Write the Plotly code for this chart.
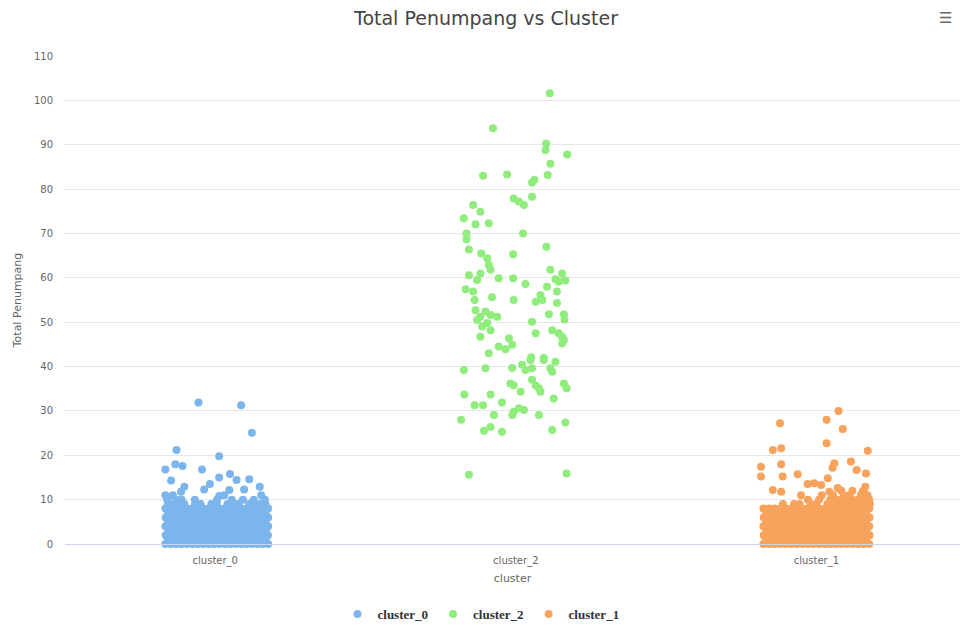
import plotly.graph_objects as go

# ---------------- data ----------------
categories = ["cluster_0", "cluster_2", "cluster_1"]
colors = ["#7cb5ec", "#90ed7d", "#f7a35c"]
y_ticks = [0, 10, 20, 30, 40, 50, 60, 70, 80, 90, 100, 110]

# cluster_0 : dense mass of small values (integer rows) + scattered higher points
c0_values = [
    0, 0, 0, 0, 0, 0, 0, 0, 0, 0, 0, 0, 0, 0, 0, 0, 0, 0, 0, 0,
    1, 1, 1, 1, 1, 1, 1, 1, 1, 1, 1, 1, 1, 1, 1, 1, 1, 1, 1,
    2, 2, 2, 2, 2, 2, 2, 2, 2, 2, 2, 2, 2, 2, 2, 2, 2, 2, 2, 2,
    3, 3, 3, 3, 3, 3, 3, 3, 3, 3, 3, 3, 3, 3, 3, 3, 3, 3, 3,
    4, 4, 4, 4, 4, 4, 4, 4, 4, 4, 4, 4, 4, 4, 4, 4, 4, 4, 4, 4,
    5, 5, 5, 5, 5, 5, 5, 5, 5, 5, 5, 5, 5, 5, 5, 5, 5, 5, 5,
    6, 6, 6, 6, 6, 6, 6, 6, 6, 6, 6, 6, 6, 6, 6, 6, 6, 6, 6, 6,
    7, 7, 7, 7, 7, 7, 7, 7, 7, 7, 7, 7, 7, 7, 7, 7, 7, 7, 7,
    8, 8, 8, 8, 8, 8, 8, 8, 8, 8, 8, 8, 8, 8, 8, 8, 8, 8, 8, 8,
    9, 9, 9, 9, 9, 9, 9, 9, 9, 9, 9, 9, 9, 9, 9,
    10, 10, 10, 10, 10, 10, 10, 10, 10,
    11, 11, 11, 11,
    31.9, 31.3, 25.1, 21.2, 19.8, 16.8, 18.0, 17.6, 16.8, 15.0, 15.8, 14.4, 14.6, 14.3,
    12.9, 13.5, 12.9, 12.3, 12.2, 12.3, 11.8, 10.8,
]
c0_jitter = [
    -0.166, -0.148, -0.130, -0.112, -0.094, -0.076, -0.058, -0.040, -0.022, -0.004, 0.014, 0.032, 0.050, 0.068, 0.086, 0.104, 0.122, 0.140, 0.158, 0.176,
    -0.157, -0.139, -0.121, -0.103, -0.085, -0.067, -0.049, -0.031, -0.013, 0.005, 0.023, 0.041, 0.059, 0.077, 0.095, 0.113, 0.131, 0.149, 0.167,
    -0.165, -0.147, -0.131, -0.111, -0.095, -0.075, -0.059, -0.039, -0.023, -0.003, 0.013, 0.033, 0.049, 0.069, 0.085, 0.105, 0.121, 0.141, 0.157, 0.175,
    -0.156, -0.140, -0.120, -0.104, -0.084, -0.068, -0.048, -0.032, -0.012, 0.004, 0.024, 0.040, 0.060, 0.076, 0.096, 0.112, 0.132, 0.148, 0.168,
    -0.166, -0.149, -0.130, -0.113, -0.094, -0.077, -0.058, -0.041, -0.022, -0.005, 0.014, 0.031, 0.050, 0.067, 0.086, 0.103, 0.122, 0.139, 0.158, 0.176,
    -0.157, -0.138, -0.121, -0.102, -0.085, -0.066, -0.049, -0.030, -0.013, 0.006, 0.023, 0.042, 0.059, 0.078, 0.095, 0.114, 0.131, 0.150, 0.167,
    -0.165, -0.148, -0.129, -0.112, -0.093, -0.076, -0.057, -0.040, -0.021, -0.004, 0.015, 0.032, 0.051, 0.068, 0.087, 0.104, 0.123, 0.140, 0.159, 0.176,
    -0.157, -0.139, -0.121, -0.103, -0.085, -0.067, -0.049, -0.031, -0.013, 0.005, 0.023, 0.041, 0.059, 0.077, 0.095, 0.113, 0.131, 0.149, 0.167,
    -0.166, -0.148, -0.130, -0.112, -0.094, -0.076, -0.058, -0.040, -0.022, -0.004, 0.014, 0.032, 0.050, 0.068, 0.086, 0.104, 0.122, 0.140, 0.158, 0.176,
    -0.157, -0.139, -0.121, -0.103, -0.067, -0.049, -0.013, 0.005, 0.041, 0.059, 0.077, 0.113, 0.131, 0.149, 0.167,
    -0.160, -0.130, -0.112, -0.068, 0.006, 0.055, 0.092, 0.128, 0.165,
    -0.166, -0.141, 0.030, 0.153,
    -0.056, 0.086, 0.122, -0.129, 0.013, -0.166, -0.133, -0.109, -0.044, 0.013, 0.049, 0.071, 0.113, -0.147,
    -0.103, -0.018, 0.148, -0.037, 0.047, 0.096, -0.114, 0.013,
]

# cluster_2 : widely spread large values
c2_values = [
    101.6, 93.7, 90.3, 88.8, 87.8, 85.7, 83.0, 83.3, 83.2, 81.5, 82.1, 77.9, 77.2, 76.4, 78.3,
    76.4, 74.9, 73.4, 72.1, 72.3, 70.0, 68.7, 70.0, 66.4, 67.0, 65.5, 65.3, 64.4, 62.9, 61.8,
    60.6, 59.5, 61.0, 59.9, 59.9, 58.6, 61.8, 61.0, 59.7, 59.1, 59.4, 58.0, 57.4, 56.9, 55.0,
    55.6, 55.0, 56.1, 55.0, 54.6, 56.9, 54.3, 51.8, 51.8, 50.6, 52.7, 51.2, 52.4, 51.6, 51.2,
    50.5, 49.0, 49.8, 48.2, 46.7, 50.1, 47.5, 48.2, 47.5, 46.7, 46.0, 46.4, 44.9, 44.5, 43.9,
    43.0, 42.1, 41.9, 45.2, 39.2, 39.6, 39.7, 40.4, 39.2, 41.5, 39.6, 41.5, 39.6, 41.1, 38.8,
    36.2, 35.8, 37.0, 35.8, 35.1, 34.3, 34.3, 36.2, 35.1, 33.7, 33.7, 32.8, 31.3, 31.3, 31.9,
    29.8, 30.6, 30.2, 29.1, 29.1, 29.1, 28.0, 27.4, 25.5, 26.4, 25.3, 25.7, 15.6, 15.9,
]
c2_jitter = [
    0.113, -0.076, 0.101, 0.099, 0.171, 0.115, -0.109, -0.029, 0.106, 0.054, 0.062, -0.007, 0.010, 0.027, 0.054,
    -0.142, -0.118, -0.173, -0.134, -0.090, -0.164, -0.164, 0.024, -0.156, 0.102, -0.115, -0.009, -0.095, -0.090, -0.084,
    -0.156, -0.129, -0.118, -0.057, -0.009, 0.032, 0.115, 0.154, 0.132, 0.143, 0.165, 0.104, -0.167, -0.142, -0.137,
    -0.079, -0.007, 0.082, 0.088, 0.066, 0.137, 0.137, 0.110, 0.160, 0.162, -0.134, -0.118, -0.101, -0.084, -0.062,
    -0.129, -0.112, -0.095, -0.084, -0.118, 0.054, 0.066, 0.121, 0.143, 0.154, 0.160, -0.023, -0.012, -0.057, -0.034,
    -0.090, 0.051, 0.093, 0.154, -0.173, -0.101, -0.012, 0.021, 0.032, 0.049, 0.054, 0.093, 0.115, 0.132, 0.121,
    -0.018, -0.007, 0.054, 0.066, 0.077, 0.082, 0.016, 0.160, 0.169, -0.171, -0.084, 0.126, -0.137, -0.109, -0.046,
    -0.007, 0.010, 0.027, -0.012, -0.073, 0.077, -0.182, 0.165, -0.106, -0.084, -0.046, 0.121, -0.156, 0.169,
]

# cluster_1 : dense mass of small values + scattered higher points
c1_values = [
    0, 0, 0, 0, 0, 0, 0, 0, 0, 0, 0, 0, 0, 0, 0, 0, 0, 0, 0, 0,
    1, 1, 1, 1, 1, 1, 1, 1, 1, 1, 1, 1, 1, 1, 1, 1, 1, 1, 1,
    2, 2, 2, 2, 2, 2, 2, 2, 2, 2, 2, 2, 2, 2, 2, 2, 2, 2, 2, 2,
    3, 3, 3, 3, 3, 3, 3, 3, 3, 3, 3, 3, 3, 3, 3, 3, 3, 3, 3,
    4, 4, 4, 4, 4, 4, 4, 4, 4, 4, 4, 4, 4, 4, 4, 4, 4, 4, 4, 4,
    5, 5, 5, 5, 5, 5, 5, 5, 5, 5, 5, 5, 5, 5, 5, 5, 5, 5, 5,
    6, 6, 6, 6, 6, 6, 6, 6, 6, 6, 6, 6, 6, 6, 6, 6, 6, 6, 6, 6,
    7, 7, 7, 7, 7, 7, 7, 7, 7, 7, 7, 7, 7, 7, 7, 7, 7, 7, 7,
    8, 8, 8, 8, 8, 8, 8, 8, 8, 8, 8, 8, 8, 8, 8, 8, 8, 8, 8, 8,
    9, 9, 9, 9, 9, 9, 9, 9, 9, 9, 9, 9, 9, 9,
    10, 10, 10, 10, 10, 10, 10, 10, 10, 10,
    11, 11, 11, 11, 11, 11,
    12, 12, 12,
    30.0, 28.0, 27.2, 25.9, 22.7, 21.2, 21.6, 21.0, 18.0, 17.4, 18.2, 17.2, 18.6, 16.7, 15.9,
    15.2, 15.2, 15.7, 13.5, 13.7, 14.8, 13.3, 12.2, 11.8, 11.0, 12.6, 11.8, 12.9, 11.8,
]
c1_jitter = [
    -0.176, -0.157, -0.139, -0.120, -0.102, -0.083, -0.065, -0.046, -0.028, -0.009, 0.009, 0.028, 0.046, 0.065, 0.083, 0.102, 0.120, 0.139, 0.157, 0.176,
    -0.167, -0.148, -0.130, -0.111, -0.093, -0.074, -0.056, -0.037, -0.019, 0.000, 0.018, 0.037, 0.055, 0.074, 0.092, 0.111, 0.129, 0.148, 0.166,
    -0.175, -0.158, -0.138, -0.121, -0.101, -0.084, -0.064, -0.047, -0.027, -0.010, 0.010, 0.027, 0.047, 0.064, 0.084, 0.101, 0.121, 0.138, 0.158, 0.177,
    -0.166, -0.149, -0.129, -0.112, -0.092, -0.075, -0.055, -0.038, -0.018, -0.001, 0.019, 0.036, 0.056, 0.073, 0.093, 0.110, 0.130, 0.147, 0.167,
    -0.176, -0.157, -0.140, -0.120, -0.103, -0.083, -0.066, -0.046, -0.029, -0.009, 0.008, 0.028, 0.045, 0.065, 0.082, 0.102, 0.119, 0.139, 0.156, 0.176,
    -0.167, -0.147, -0.130, -0.110, -0.093, -0.073, -0.056, -0.036, -0.019, 0.001, 0.018, 0.038, 0.055, 0.075, 0.092, 0.112, 0.129, 0.149, 0.166,
    -0.175, -0.157, -0.139, -0.120, -0.102, -0.083, -0.065, -0.046, -0.028, -0.009, 0.009, 0.028, 0.046, 0.065, 0.083, 0.102, 0.120, 0.139, 0.157, 0.177,
    -0.167, -0.148, -0.130, -0.111, -0.093, -0.074, -0.056, -0.037, -0.019, 0.000, 0.018, 0.037, 0.055, 0.074, 0.092, 0.111, 0.129, 0.148, 0.166,
    -0.176, -0.157, -0.139, -0.120, -0.102, -0.083, -0.065, -0.046, -0.028, -0.009, 0.009, 0.028, 0.046, 0.065, 0.083, 0.102, 0.120, 0.139, 0.157, 0.176,
    -0.111, -0.074, -0.056, -0.019, 0.000, 0.037, 0.055, 0.074, 0.092, 0.111, 0.129, 0.148, 0.166, 0.178,
    -0.028, 0.009, 0.046, 0.065, 0.083, 0.102, 0.120, 0.139, 0.157, 0.176,
    0.018, 0.055, 0.092, 0.111, 0.148, 0.170,
    0.083, 0.120, 0.157,
    0.074, 0.034, -0.121, 0.088, 0.034, -0.145, -0.117, 0.171, -0.117, -0.184, 0.060, 0.054, 0.115, 0.134, 0.165,
    -0.184, -0.112, -0.062, -0.029, -0.007, 0.038, 0.016, -0.145, -0.117, -0.051, 0.071, 0.043, 0.163, 0.154,
]

# ---------------- figure ----------------
series = [
    (c0_values, c0_jitter),
    (c2_values, c2_jitter),
    (c1_values, c1_jitter),
]

fig = go.Figure()
for idx, (name, (vals, jit), col) in enumerate(zip(categories, series, colors)):
    fig.add_trace(go.Scatter(
        x=[idx + j for j in jit],
        y=vals,
        mode="markers",
        name=name,
        marker=dict(color=col, size=8, line=dict(width=0)),
        cliponaxis=False,
        hovertemplate=name + ": %{y}<extra></extra>",
    ))

fig.update_layout(
    width=962,
    height=625,
    autosize=False,
    margin=dict(l=65, r=2, t=56, b=81),
    paper_bgcolor="white",
    plot_bgcolor="white",
    font=dict(family="DejaVu Sans", color="#666666", size=11),
    title=dict(
        text="Total Penumpang vs Cluster",
        x=486 / 962, xref="container", xanchor="center",
        y=1 - 18 / 625, yref="container", yanchor="middle",
        font=dict(family="DejaVu Sans", size=19, color="#444444"),
    ),
    xaxis=dict(
        range=[-0.5, 2.478],
        tickmode="array",
        tickvals=[0, 1, 2],
        ticktext=categories,
        showgrid=False,
        zeroline=False,
        showline=True,
        linecolor="#ccd6eb",
        linewidth=1,
        ticks="",
        ticklabelstandoff=7,
        tickfont=dict(size=10, color="#666666"),
        title=dict(text="cluster", font=dict(size=11, color="#666666"), standoff=8),
        automargin=False,
    ),
    yaxis=dict(
        range=[0, 110],
        tickmode="array",
        tickvals=y_ticks,
        showgrid=True,
        gridcolor="#e6e6e6",
        gridwidth=1,
        zeroline=False,
        showline=False,
        ticks="",
        ticklabelstandoff=11,
        tickfont=dict(size=10, color="#666666"),
        title=dict(text="Total Penumpang", font=dict(size=11, color="#666666"), standoff=10),
        automargin=False,
    ),
    showlegend=True,
    legend=dict(
        orientation="h",
        x=0.5, xref="container", xanchor="center",
        y=11 / 625, yref="container", yanchor="middle",
        font=dict(family="Liberation Serif", size=13, color="#333333", weight="bold"),
        itemwidth=30,
        bgcolor="rgba(0,0,0,0)",
    ),
    annotations=[
        dict(
            text="☰", xref="paper", yref="paper",
            x=(945 - 65) / 895, y=(544 - 18) / 488,
            xanchor="center", yanchor="middle",
            showarrow=False, font=dict(family="DejaVu Sans", size=15, color="#666666"),
        )
    ],
)

fig.write_html(
    "out.html",
    config={"displayModeBar": False},
    post_script="document.body.style.margin='0px';",
)
